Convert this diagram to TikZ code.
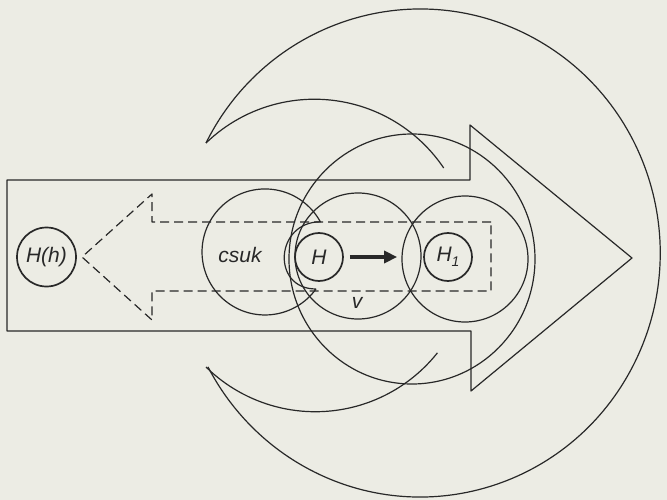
\documentclass[tikz,border=0pt]{standalone}
\usepackage{fontspec}
\setmainfont{Liberation Sans}
\usetikzlibrary{arrows.meta}
\definecolor{paper}{RGB}{236,236,228}
\definecolor{ink}{RGB}{40,40,40}
\begin{document}
\begin{tikzpicture}[x=1pt,y=-1pt, line join=round,
  outline/.style={draw=ink, line width=1.2pt},
  dashline/.style={draw=ink, line width=1.2pt, dash pattern=on 9pt off 5pt},
  bubble/.style={circle, draw=ink, line width=1.2pt, minimum size=126pt, inner sep=0pt},
  hnode/.style={circle, draw=ink, line width=1.7pt, minimum size=48pt, inner sep=0pt, text=ink,
                font=\itshape\fontsize{21}{21}\selectfont},
  lbl/.style={font=\itshape\fontsize{21}{21}\selectfont, text=ink, inner sep=0pt}]
\fill[paper] (0,0) rectangle (667,500);
\useasboundingbox (0,0) rectangle (667,500);

% big solid arrow
\draw[outline] (7,180) -- (470,180) -- (470,125) -- (632,258) -- (471,391) -- (471,331) -- (7,331) -- cycle;

% dashed arrow pointing left
\draw[dashline] (491,222) -- (152,222) -- (152,194) -- (82,257) -- (152,320) -- (152,291) -- (491,291) -- cycle;

% large circle around H and H1
\draw[outline] (412,259) ellipse [x radius=123, y radius=125];

% outer crescent shape: one large arc and two inner arcs
\draw[outline] (206,143) arc[start angle=206.8, end angle=512.2, x radius=240, y radius=244];
\draw[outline] (206,143) arc[start angle=226, end angle=326, radius=156];
\draw[outline] (206,367) arc[start angle=134.5, end angle=38.5, radius=156];

% csuk crescent
\draw[outline] (316,289) arc[start angle=36, end angle=331.4, radius=63]
  .. controls (275,222) and (271,289) .. (316,289);
\node[lbl] (csuk) at (240,255) {csuk};

% v circle and H1 circle
\node[bubble] (vc) at (358,256) {};
\node[lbl] (v) at (357,303) {v};
\node[bubble] (h1c) at (465,259) {};

% small nodes
\node[hnode] (H) at (319,257) {H};
\node[hnode] (H1) at (448,257) {H\raisebox{-5pt}{\fontsize{14}{14}\selectfont 1}};
\node[hnode, minimum size=59pt] (Hh) at (46.5,257) {H(h)};

\draw[ink, line width=3.2pt, shorten <=6pt, shorten >=26pt,
      -{Triangle[length=13pt,width=12pt]}] (H) -- (H1);
\end{tikzpicture}
\end{document}
